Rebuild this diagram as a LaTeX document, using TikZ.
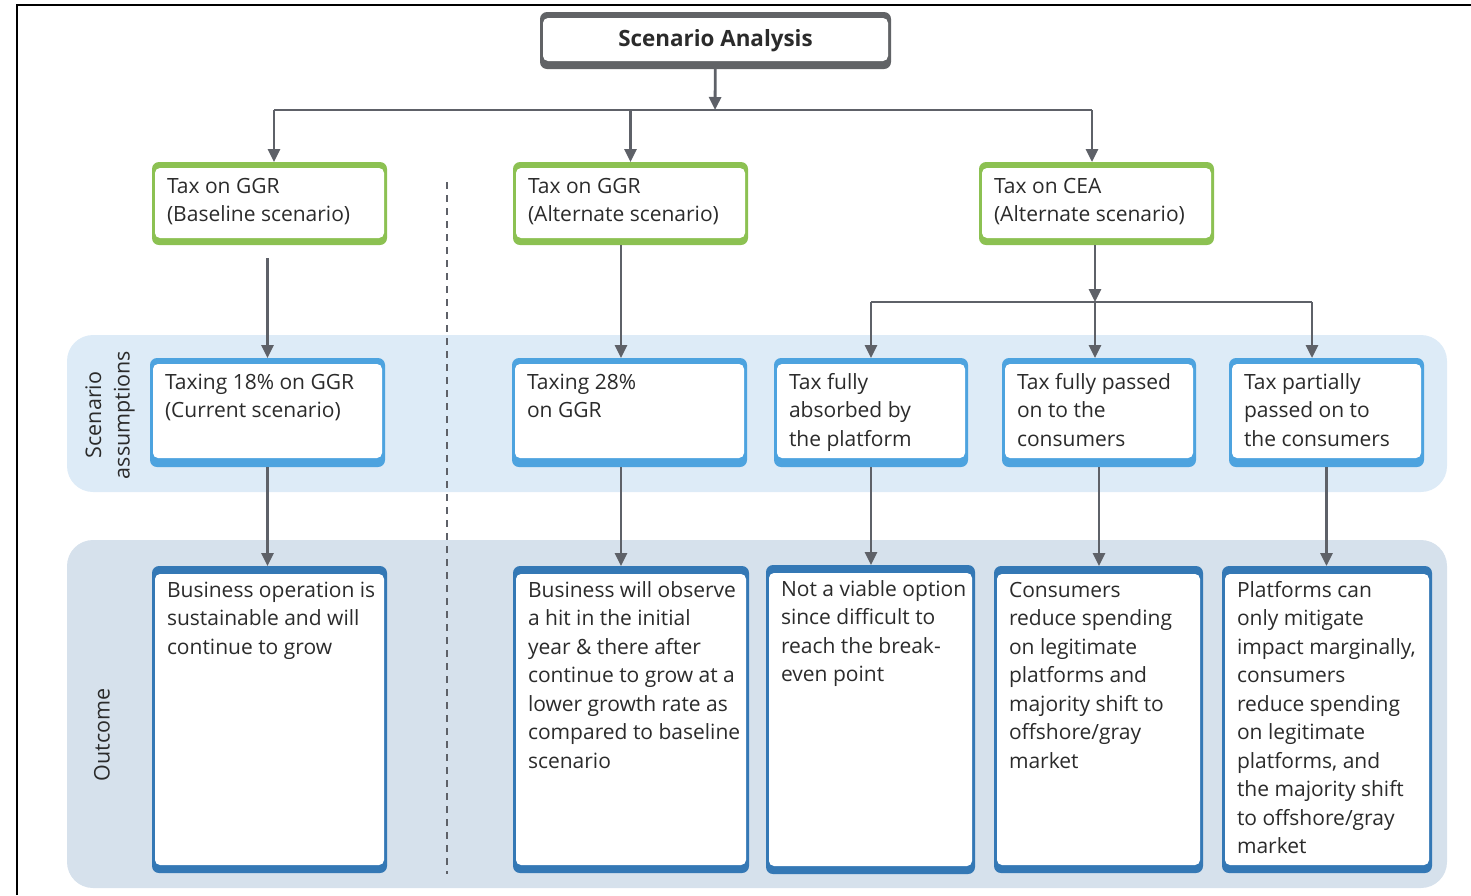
\documentclass[tikz,border=0pt]{standalone}
\usepackage{fontspec}
\setmainfont{Open Sans}
\usetikzlibrary{arrows.meta}
\definecolor{grn}{HTML}{8CC152}
\definecolor{ablue}{HTML}{4DA3DF}
\definecolor{oblue}{HTML}{3478B5}
\definecolor{band1}{HTML}{DDEBF7}
\definecolor{band2}{HTML}{D6E1EC}
\definecolor{arrgray}{HTML}{5E6168}
\definecolor{ttlgray}{HTML}{616366}
\definecolor{txt}{HTML}{2B2B2B}
\newcommand\bt[3]{\parbox[t][#2][t]{#1}{\raggedright\leftskip=15pt\fontsize{21}{28.5}\selectfont\color{txt}\rule{0pt}{31pt}#3}}
\tikzset{
  bx/.style n args={3}{anchor=north west, inner sep=0pt, outer sep=0pt, fill=#1, rounded corners=7pt,
    path picture={\fill[white, rounded corners=5pt] ([shift={(3pt,-#2)}]path picture bounding box.north west) rectangle ([shift={(-3pt,#3)}]path picture bounding box.south east);}},
  arr/.style={draw=arrgray, line width=2.8pt, -{Triangle[length=13pt,width=12pt]}},
  ln/.style={draw=arrgray, line width=2.8pt},
  dsh/.style={draw=arrgray, line width=2.8pt, dash pattern=on 7pt off 6pt},
  lbl/.style={rotate=90, align=center, font=\fontsize{21.5}{28.5}\selectfont, text=txt},
}
\begin{document}
\begin{tikzpicture}[x=1pt,y=-1pt]
\useasboundingbox (0,0) rectangle (1471,895);
% frame
\draw[line width=2pt] (17,895) -- (17,5) -- (1471,5);
% bands
\fill[band1, rounded corners=26pt] (67,335) rectangle (1447,492);
\fill[band2, rounded corners=26pt] (67,540) rectangle (1447,888);
\node[lbl] (lsa) at (110,415) {Scenario\\assumptions};
\node[lbl] (lout) at (102,735) {Outcome};
% dashed divider
\coordinate (d1) at (447,182);
\coordinate (d2) at (447,874);
\draw[dsh] (d1) -- (d2);
% title
\node[bx={ttlgray}{6pt}{8pt}, minimum width=351pt, minimum height=57pt, font=\fontsize{22.4}{26}\selectfont\bfseries, text=txt] (t) at (540,12) {\raisebox{-2pt}{Scenario Analysis}};
% green boxes
\node[bx={grn}{6pt}{7pt}] (g1) at (152,162) {\bt{235pt}{83pt}{Tax on GGR\\(Baseline scenario)}};
\node[bx={grn}{6pt}{7pt}] (g2) at (513,162) {\bt{235pt}{83pt}{Tax on GGR\\(Alternate scenario)}};
\node[bx={grn}{6pt}{7pt}] (g3) at (979,162) {\bt{235pt}{83pt}{Tax on CEA\\(Alternate scenario)}};
% assumption boxes
\node[bx={ablue}{6pt}{9pt}] (a1) at (150,358) {\bt{235pt}{109pt}{Taxing 18\% on GGR\\(Current scenario)}};
\node[bx={ablue}{6pt}{9pt}] (a2) at (512,358) {\bt{235pt}{109pt}{Taxing 28\%\\on GGR}};
\node[bx={ablue}{6pt}{9pt}] (a3) at (774,358) {\bt{194pt}{109pt}{Tax fully\\absorbed by\\the platform}};
\node[bx={ablue}{6pt}{9pt}] (a4) at (1002,358) {\bt{194pt}{109pt}{Tax fully passed\\on to the\\consumers}};
\node[bx={ablue}{6pt}{9pt}] (a5) at (1229,358) {\bt{195pt}{109pt}{Tax partially\\passed on to\\the consumers}};
% outcome boxes
\node[bx={oblue}{8pt}{8pt}] (o1) at (152,566) {\bt{235pt}{307pt}{Business operation is\\sustainable and will\\continue to grow}};
\node[bx={oblue}{8pt}{8pt}] (o2) at (513,566) {\bt{236pt}{307pt}{Business will observe\\a hit in the initial\\year \& there after\\continue to grow at a\\lower growth rate as\\compared to baseline\\scenario}};
\node[bx={oblue}{8pt}{8pt}] (o3) at (766,565) {\bt{209pt}{309pt}{Not a viable option\\since difficult to\\reach the break-\\even point}};
\node[bx={oblue}{8pt}{8pt}] (o4) at (994,566) {\bt{209pt}{307pt}{Consumers\\reduce spending\\on legitimate\\platforms and\\majority shift to\\offshore/gray\\market}};
\node[bx={oblue}{8pt}{8pt}] (o5) at (1222,566) {\bt{210pt}{307pt}{Platforms can\\only mitigate\\impact marginally,\\consumers\\reduce spending\\on legitimate\\platforms, and\\the majority shift\\to offshore/gray\\market}};
% connectors
\coordinate (h1) at (715,110);
\coordinate (cx1) at (274,0);
\coordinate (cx3) at (1092,0);
\coordinate (cx2) at (621,0);
\coordinate (cx5) at (1312,0);
\coordinate (h2) at (1095,302);
\draw[arr] (t) -- (h1);
\draw[ln] (cx1 |- h1) -- (cx3 |- h1);
\draw[arr] (cx1 |- h1) -- (g1.north -| cx1);
\draw[arr] (g2.north |- h1) -- (g2.north);
\draw[arr] (cx3 |- h1) -- (g3.north -| cx3);
\path ([yshift=-13pt]g1.south) coordinate (g1b);
\draw[arr] (g1b -| a1.north) -- (a1.north);
\draw[arr] (g2.south -| cx2) -- (a2.north -| cx2);
\draw[arr] (g3.south -| h2) -- (h2);
\draw[ln] (a3.north |- h2) -- (cx5 |- h2);
\draw[arr] (a3.north |- h2) -- (a3.north);
\draw[arr] (h2) -- (a4.north -| h2);
\draw[arr] (cx5 |- h2) -- (a5.north -| cx5);
\draw[arr] (a1.south) -- (o1.north -| a1.south);
\draw[arr] (a2.south -| cx2) -- (o2.north -| cx2);
\draw[arr] (a3.south) -- (o3.north -| a3.south);
\draw[arr] (a4.south) -- (o4.north -| a4.south);
\draw[arr] (a5.south) -- (o5.north -| a5.south);
\end{tikzpicture}
\end{document}
